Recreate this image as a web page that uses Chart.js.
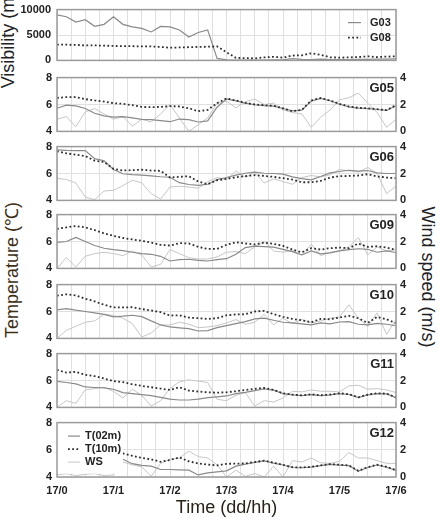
<!DOCTYPE html>
<html>
<head>
<meta charset="utf-8">
<script src="https://cdn.jsdelivr.net/npm/chart.js@4.4.0/dist/chart.umd.min.js"></script>
<style>
body{margin:0;background:#fff;width:439px;height:518px;overflow:hidden;position:relative;font-family:"Liberation Sans",Arial,sans-serif}
canvas{position:absolute;left:0}
.ttl{position:absolute;white-space:nowrap;font-size:18px;color:#222;transform:translate(-50%,-50%) rotate(-90deg)}
</style>
</head>
<body>
<div class="ttl" style="left:8px;top:40px">Visibility (m)</div>
<div class="ttl" style="left:11px;top:270px;color:#3d2f17">Temperature (℃)</div>
<div class="ttl" style="left:427px;top:277px;transform:translate(-50%,-50%) rotate(90deg)">Wind speed (m/s)</div>
<script>
// time axis: 17/0 .. 17/6, values every 10 minutes
const timeLabels = ['17/0', '17/1', '17/2', '17/3', '17/4', '17/5', '17/6'];
const stepH = 1 / 6;

// visibility (m)
const visG03 = [8980, 8600, 7550, 8000, 6700, 7100, 8600, 7100, 6600, 6300, 5600, 6700, 6600, 6000, 4600, 5500, 6000, 400, 120, 80, 80, 80, 80, 100, 120, 350, 200, 180, 250, 150, 150, 150, 200, 200, 250, 250, 300];
const visG08 = [3100, 3100, 3050, 2950, 2950, 2900, 2850, 2800, 2800, 2750, 2750, 2650, 2500, 2550, 2600, 2650, 2700, 2750, 1600, 500, 450, 400, 600, 700, 550, 950, 1000, 1400, 1100, 600, 550, 600, 650, 800, 650, 750, 800];

// temperature at 2 m / 10 m (deg C) and wind speed (m/s)
const g05T02 = [5.72, 5.95, 5.9, 5.7, 5.35, 5.15, 5.06, 5.1, 5.0, 4.9, 4.88, 4.8, 4.72, 4.92, 4.88, 4.7, 4.78, 5.8, 6.42, 6.27, 6.1, 5.98, 5.92, 5.88, 5.7, 5.52, 5.58, 6.25, 6.45, 6.28, 6.02, 5.83, 5.73, 5.7, 5.63, 5.56, 5.9];
const g05T10 = [6.49, 6.55, 6.55, 6.4, 6.3, 6.22, 6.1, 6.05, 5.95, 5.82, 5.8, 5.82, 5.88, 5.85, 5.72, 5.5, 5.6, 6.1, 6.45, 6.3, 6.12, 6.0, 5.95, 5.9, 5.72, 5.5, 5.6, 6.3, 6.48, 6.3, 6.05, 5.85, 5.75, 5.72, 5.65, 5.58, 5.95];
const g05WS = [0.9, 1.1, 0.35, 1.45, 1.7, 1.3, 0.9, 1.1, 0.4, 0.9, 0.7, 1.3, 2.0, 1.0, 0.0, 0.5, 1.0, 2.1, 2.25, 1.75, 2.2, 2.4, 2.0, 2.1, 1.6, 1.4, 1.3, 0.3, 1.05, 1.6, 2.35, 2.5, 2.85, 2.1, 1.4, 0.3, 0.9];

const g06T02 = [7.76, 7.72, 7.7, 7.7, 7.1, 6.95, 6.3, 5.98, 5.92, 5.88, 5.82, 5.76, 5.72, 5.32, 5.18, 5.12, 5.2, 5.55, 5.7, 5.88, 6.02, 6.1, 6.02, 6.0, 5.95, 5.75, 5.62, 5.53, 5.78, 6.05, 6.15, 6.24, 6.18, 6.22, 6.05, 6.0, 6.0];
const g06T10 = [7.65, 7.5, 7.4, 7.3, 6.95, 6.85, 6.35, 6.22, 6.25, 6.28, 6.22, 6.2, 5.7, 5.75, 5.8, 5.4, 5.2, 5.5, 5.6, 5.72, 5.8, 5.88, 5.82, 5.75, 5.65, 5.55, 5.35, 5.35, 5.45, 5.7, 5.8, 5.82, 5.85, 5.95, 5.78, 5.7, 5.65];
const g06WS = [1.65, 1.55, 1.3, 0.25, 0.05, 0.7, 0.75, 1.1, 1.5, 1.3, 0.5, 0.1, 1.0, 1.05, 1.0, 0.9, 1.4, 1.7, 1.55, 2.2, 1.7, 2.1, 1.3, 1.6, 1.4, 1.2, 1.7, 1.85, 1.75, 1.9, 2.3, 2.2, 2.1, 2.45, 2.0, 0.5, 1.06];

const g09T02 = [5.93, 6.0, 6.3, 6.0, 5.7, 5.5, 5.4, 5.32, 5.2, 5.1, 5.05, 4.9, 4.55, 4.65, 4.68, 4.6, 4.55, 4.65, 4.72, 5.05, 5.55, 5.65, 5.62, 5.58, 5.42, 5.25, 5.0, 5.3, 5.08, 5.15, 5.3, 5.4, 5.46, 5.42, 5.2, 5.3, 5.18];
const g09T10 = [6.94, 7.05, 7.15, 7.05, 6.85, 6.6, 6.42, 6.26, 6.15, 6.05, 5.92, 5.75, 5.7, 5.88, 5.85, 5.6, 5.45, 5.45, 5.75, 5.95, 5.85, 5.78, 5.92, 5.82, 5.68, 5.4, 5.2, 5.5, 5.4, 5.5, 5.55, 5.5, 5.85, 5.6, 5.65, 5.55, 5.38];
const g09WS = [0.0, 0.8, 0.1, 0.9, 1.1, 1.2, 1.1, 0.95, 1.3, 1.0, 0.1, 0.3, 1.4, 1.1, 0.8, 0.7, 0.7, 0.85, 1.2, 1.25, 1.1, 1.6, 2.0, 1.3, 1.2, 1.35, 1.0, 1.8, 0.95, 1.2, 1.3, 1.6, 2.3, 1.0, 1.6, 1.3, 1.4];

const g10T02 = [6.12, 6.22, 6.1, 6.0, 5.9, 5.78, 5.6, 5.65, 5.72, 5.62, 5.3, 5.0, 4.85, 4.78, 4.72, 4.55, 4.58, 4.8, 4.95, 5.1, 5.25, 5.45, 5.5, 5.35, 5.2, 5.15, 5.08, 5.0, 5.15, 5.08, 5.22, 5.25, 5.05, 5.0, 5.12, 5.05, 4.94];
const g10T10 = [7.18, 7.28, 7.2, 6.95, 6.75, 6.5, 6.3, 6.3, 6.32, 6.18, 6.08, 5.95, 5.7, 5.72, 5.55, 5.5, 5.45, 5.5, 5.72, 5.78, 5.8, 6.0, 6.05, 5.8, 5.6, 5.45, 5.35, 5.2, 5.45, 5.42, 5.55, 5.68, 5.5, 5.15, 5.6, 5.42, 5.13];
const g10WS = [0.0, 0.6, 0.9, 1.2, 1.3, 1.8, 1.7, 1.5, 1.1, 0.1, 0.4, 1.0, 1.0, 1.2, 1.05, 0.8, 0.85, 0.95, 1.15, 1.4, 1.05, 1.2, 1.8, 1.0, 1.5, 1.1, 1.4, 1.15, 1.3, 1.5, 1.6, 2.5, 1.5, 0.9, 1.9, 0.3, 1.4];

const g11T02 = [5.93, 5.85, 5.75, 5.52, 5.48, 5.45, 5.35, 5.1, 5.02, 4.95, 4.88, 4.75, 4.62, 4.55, 4.55, 4.62, 4.72, 4.78, 4.85, 5.02, 5.12, 5.25, 5.38, 5.28, 5.03, 4.93, 4.88, 4.95, 4.88, 4.93, 5.03, 4.96, 4.73, 4.93, 5.03, 5.0, 4.73];
const g11T10 = [6.8, 6.58, 6.65, 6.42, 6.32, 6.15, 5.95, 5.88, 5.72, 5.6, 5.5, 5.4, 5.3, 5.5, 5.25, 5.18, 5.12, 5.1, 5.12, 5.2, 5.3, 5.38, 5.45, 5.3, 5.05, 4.95, 4.9, 4.97, 4.9, 4.95, 5.05, 4.98, 4.75, 4.95, 5.05, 5.02, 4.75];
const g11WS = [0.0, 0.5, 0.3, 1.3, 1.4, 1.5, 1.2, 0.7, 1.35, 0.9, 0.1, 0.5, 1.4, 1.9, 2.05, 1.95, 1.85, 0.6, 0.5, 0.9, 1.1, 0.1, 0.5, 0.4, 0.7, 1.2, 1.15, 1.3, 1.2, 1.2, 1.15, 1.6, 1.65, 1.35, 1.4, 1.3, 1.1];

const g12T02 = [6.0, 5.9, 5.8, 5.7, 5.55, 5.45, 5.38, 5.3, 4.98, 4.85, 4.8, 4.55, 4.55, 4.52, 4.5, 4.15, 4.3, 4.38, 4.45, 4.8, 4.95, 5.08, 5.18, 5.02, 4.88, 4.7, 4.68, 4.73, 4.83, 4.93, 4.88, 4.83, 4.43, 4.7, 4.88, 4.72, 4.48];
const g12T10 = [6.75, 6.55, 6.4, 6.25, 6.1, 5.95, 5.82, 5.73, 5.56, 5.4, 5.3, 5.12, 5.25, 5.44, 5.15, 5.0, 4.92, 4.85, 4.97, 4.98, 5.0, 5.1, 5.2, 5.05, 4.9, 4.72, 4.7, 4.75, 4.85, 4.95, 4.9, 4.85, 4.45, 4.72, 4.9, 4.75, 4.5];
const g12WS = [0.15, 0.25, 0.1, 0.2, 0.25, 0.1, 0.15, 1.1, 0.9, 0.75, 0.05, 1.0, 1.3, 1.4, 1.9, 1.5, 1.4, 0.9, 0.0, 0.5, 0.05, 0.25, 0.0, 0.8, 0.0, 1.2, 1.1, 1.4, 1.05, 1.0, 1.15, 1.8, 1.4, 1.4, 1.2, 1.0, 1.0];

const FONT = '"Liberation Sans", Arial, sans-serif';
const tickFont = {family: FONT, size: 11, weight: 'bold'};
const gridColor = '#e0e0e0';
const dotted = [1.8, 2.4];

function pts(arr) {
  return arr.map((v, i) => ({x: i * stepH, y: v}));
}

// frame, panel name and legends drawn on top of the plot
const panelPlugin = {
  id: 'panelDeco',
  afterDraw(chart, args, o) {
    const ctx = chart.ctx, a = chart.chartArea;
    ctx.save();
    if (o.legend) {
      const L = o.legend;
      if (L.box) {
        ctx.fillStyle = '#fff';
        ctx.fillRect(a.left, a.top, L.box[0], L.box[1]);
      }
      const lx = L.fromRight ? a.right - L.x : a.left + L.x;
      ctx.font = 'bold 11px ' + FONT;
      ctx.textBaseline = 'middle';
      L.items.forEach((it, i) => {
        const ds = chart.data.datasets[it];
        const y = a.top + L.y + i * L.dy;
        ctx.strokeStyle = ds.borderColor;
        ctx.lineWidth = ds.borderWidth;
        ctx.setLineDash(ds.borderDash || []);
        ctx.beginPath();
        ctx.moveTo(lx, y);
        ctx.lineTo(lx + L.len, y);
        ctx.stroke();
        ctx.setLineDash([]);
        ctx.fillStyle = '#222';
        ctx.fillText(ds.label, lx + L.len + L.gap, y);
      });
    }
    if (o.name) {
      ctx.font = 'bold 13px ' + FONT;
      ctx.fillStyle = '#222';
      ctx.textAlign = 'right';
      ctx.textBaseline = 'alphabetic';
      ctx.fillText(o.name, a.right - 2, a.top + 14);
    }
    ctx.strokeStyle = '#9a9a9a';
    ctx.lineWidth = 1.5;
    ctx.strokeRect(a.left, a.top, a.right - a.left, a.bottom - a.top);
    ctx.restore();
  }
};

function xScale(last) {
  return {
    type: 'linear', min: 0, max: 6,
    afterFit: s => { s.height = last ? 44 : 0; },
    border: {display: false},
    grid: {color: gridColor, drawTicks: false},
    ticks: {
      display: last, stepSize: 0.25, autoSkip: false, maxRotation: 0, padding: 7,
      font: tickFont, color: '#222',
      callback: v => Number.isInteger(v) ? timeLabels[v] : ''
    },
    title: {
      display: last, text: 'Time (dd/hh)', color: '#2a2118',
      font: {family: FONT, size: 18}, padding: {top: 0, bottom: 2}
    }
  };
}

function addCanvas(top, height) {
  const c = document.createElement('canvas');
  c.width = 439;
  c.height = height;
  c.style.top = top + 'px';
  document.body.appendChild(c);
  return c;
}

// visibility panel
new Chart(addCanvas(-3, 76), {
  type: 'line',
  data: {
    datasets: [
      {label: 'G03', data: pts(visG03), borderColor: '#8a8a8a', borderWidth: 1.2, order: 1},
      {label: 'G08', data: pts(visG08), borderColor: '#2e2e2e', borderWidth: 1.8, borderDash: dotted, order: 0}
    ]
  },
  options: {
    responsive: false, animation: false, devicePixelRatio: 1,
    layout: {padding: {top: 10, bottom: 10, left: 0, right: 43}},
    elements: {point: {radius: 0}, line: {tension: 0}},
    plugins: {
      legend: {display: false}, tooltip: {enabled: false},
      panelDeco: {legend: {fromRight: true, x: 48, y: 13, dy: 15, len: 13, gap: 9, items: [0, 1]}}
    },
    scales: {
      x: xScale(false),
      y: {
        min: 0, max: 10000,
        afterFit: s => { s.width = 57; },
        border: {display: false},
        grid: {color: gridColor, drawTicks: false},
        ticks: {stepSize: 2500, padding: 6, font: tickFont, color: '#222',
          callback: v => v % 5000 === 0 ? v : ''}
      }
    }
  },
  plugins: [panelPlugin]
});

const tempPanels = [
  {name: 'G05', top: 76, t02: g05T02, t10: g05T10, ws: g05WS},
  {name: 'G06', top: 145, t02: g06T02, t10: g06T10, ws: g06WS},
  {name: 'G09', top: 213, t02: g09T02, t10: g09T10, ws: g09WS},
  {name: 'G10', top: 283, t02: g10T02, t10: g10T10, ws: g10WS},
  {name: 'G11', top: 352, t02: g11T02, t10: g11T10, ws: g11WS},
  {name: 'G12', top: 421, t02: g12T02, t10: g12T10, ws: g12WS, last: true}
];

tempPanels.forEach(p => {
  const h = 57;
  const canvas = p.last ? addCanvas(p.top - 10, 110) : addCanvas(p.top - 10, h + 20);
  const deco = {name: p.name};
  if (p.last) {
    deco.legend = {box: [66, 51], x: 11, y: 13.5, dy: 13, len: 12, gap: 5, items: [0, 1, 2]};
  }
  new Chart(canvas, {
    type: 'line',
    data: {
      datasets: [
        {label: 'T(02m)', data: pts(p.t02), borderColor: '#8a8a8a', borderWidth: 1.2, yAxisID: 'y', order: 1},
        {label: 'T(10m)', data: pts(p.t10), borderColor: '#2e2e2e', borderWidth: 1.8, borderDash: dotted, yAxisID: 'y', order: 0},
        {label: 'WS', data: pts(p.ws), borderColor: '#c6c6c6', borderWidth: 1, yAxisID: 'y1', order: 2}
      ]
    },
    options: {
      responsive: false, animation: false, devicePixelRatio: 1,
      layout: {padding: {top: 10, bottom: p.last ? 0 : 10, left: 0, right: 0}},
      elements: {point: {radius: 0}, line: {tension: 0}},
      plugins: {legend: {display: false}, tooltip: {enabled: false}, panelDeco: deco},
      scales: {
        x: xScale(!!p.last),
        y: {
          position: 'left', min: 4, max: 8,
          afterFit: s => { s.width = 57; },
          border: {display: false},
          grid: {color: gridColor, drawTicks: false},
          ticks: {stepSize: 1, padding: 5, font: tickFont, color: '#222',
            callback: v => v % 2 === 0 ? v : ''}
        },
        y1: {
          position: 'right', min: 0, max: 4,
          afterFit: s => { s.width = 43; },
          border: {display: false},
          grid: {drawOnChartArea: false, drawTicks: false},
          ticks: {stepSize: 2, padding: 4, font: tickFont, color: '#222'}
        }
      }
    },
    plugins: [panelPlugin]
  });
});
</script>
</body>
</html>
